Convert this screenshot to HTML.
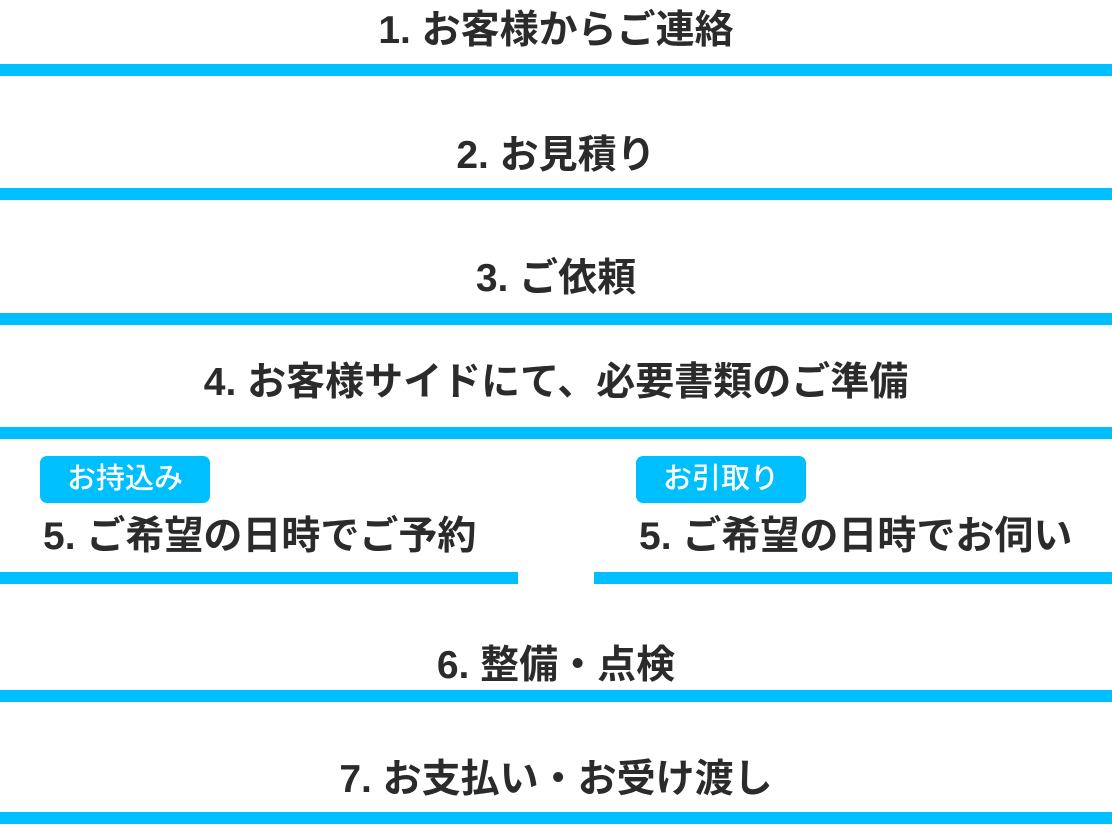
<!DOCTYPE html>
<html><head><meta charset="utf-8"><style>
body{margin:0;width:1112px;height:826px;background:#fff;position:relative;overflow:hidden;font-family:"Liberation Sans","Noto Sans CJK JP",sans-serif;}
.l{position:absolute;height:12px;background:#00bfff;}
.t{position:absolute;font-weight:bold;font-size:39px;color:#2b2b2b;line-height:40px;white-space:nowrap;}
.c{left:0;width:1112px;text-align:center;}
.b{position:absolute;background:#00bfff;color:#fff;border-radius:7px;font-size:29px;line-height:47px;height:47px;text-align:center;font-weight:500;}
</style></head><body>
<div class="t c" style="top:11px">1. お客様からご連絡</div>
<div class="l" style="top:64px;left:0;width:1112px"></div>
<div class="t c" style="top:136px">2. お見積り</div>
<div class="l" style="top:188px;left:0;width:1112px"></div>
<div class="t c" style="top:259px">3. ご依頼</div>
<div class="l" style="top:313px;left:0;width:1112px"></div>
<div class="t c" style="top:363px">4. お客様サイドにて、必要書類のご準備</div>
<div class="l" style="top:427px;left:0;width:1112px"></div>
<div class="b" style="left:40px;top:456px;width:170px">お持込み</div>
<div class="b" style="left:636px;top:456px;width:170px">お引取り</div>
<div class="t" style="left:43px;top:517px">5. ご希望の日時でご予約</div>
<div class="t" style="left:639px;top:517px">5. ご希望の日時でお伺い</div>
<div class="l" style="top:572px;left:0;width:518px"></div>
<div class="l" style="top:572px;left:594px;width:518px"></div>
<div class="t c" style="top:646px">6. 整備・点検</div>
<div class="l" style="top:690px;left:0;width:1112px"></div>
<div class="t c" style="top:760px">7. お支払い・お受け渡し</div>
<div class="l" style="top:812px;left:0;width:1112px"></div>
</body></html>
